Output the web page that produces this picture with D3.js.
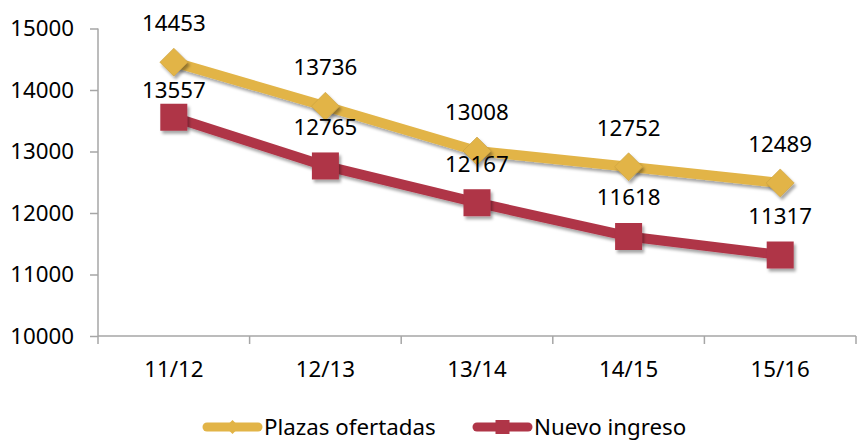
<!DOCTYPE html>
<html>
<head>
<meta charset="utf-8">
<script src="https://cdn.jsdelivr.net/npm/d3@7"></script>
<style>
  body { margin: 0; background: #fff; }
  svg { display: block; font-family: "Noto Sans", sans-serif; }
</style>
</head>
<body>
<svg id="chart" width="858" height="441"></svg>
<script>
const categories = ['11/12', '12/13', '13/14', '14/15', '15/16']
const plazasOfertadas = [14453, 13736, 13008, 12752, 12489]
const nuevoIngreso = [13557, 12765, 12167, 11618, 11317]
const yTicks = [10000, 11000, 12000, 13000, 14000, 15000]
const seriesNames = ['Plazas ofertadas', 'Nuevo ingreso']

const width = 858
const height = 441
const margin = { top: 28.5, right: 2, bottom: 105, left: 98 }
const fontSize = 22.3

const svg = d3.select('#chart')

const defs = svg.append('defs')
const shadow = defs.append('filter').attr('id', 'shadow')
  .attr('x', '-50%').attr('y', '-50%').attr('width', '200%').attr('height', '200%')
shadow.append('feDropShadow')
  .attr('dx', 2).attr('dy', 3).attr('stdDeviation', 1.5)
  .attr('flood-color', '#000').attr('flood-opacity', 0.35)

const xBand = d3.scaleBand().domain(categories).range([margin.left, width - margin.right])
const x = d => xBand(d) + xBand.bandwidth() / 2
const y = d3.scaleLinear().domain([10000, 15000]).range([height - margin.bottom, margin.top])

const axisColor = '#a6a6a6'

// y axis
const yAxis = d3.axisLeft(y).tickValues(yTicks).tickSize(8).tickPadding(16).tickFormat(d3.format('d'))
const gy = svg.append('g').attr('transform', `translate(${margin.left},0)`).call(yAxis)
gy.selectAll('path, line').attr('stroke', axisColor).attr('stroke-width', 1.5)
gy.select('.domain').attr('d', `M0,${y(15000)}V${y(10000)}`)
gy.selectAll('text').attr('font-size', fontSize).attr('fill', '#000').attr('font-family', '"Noto Sans", sans-serif')

// x axis (ticks at band edges)
const gx = svg.append('g').attr('transform', `translate(0,${y(10000)})`)
gx.append('line').attr('x1', margin.left).attr('x2', width - margin.right)
  .attr('stroke', axisColor).attr('stroke-width', 1.5)
const edges = categories.map(c => xBand(c)).concat([xBand(categories[categories.length - 1]) + xBand.bandwidth()])
gx.selectAll('line.tick').data(edges).join('line').attr('class', 'tick')
  .attr('x1', d => d).attr('x2', d => d).attr('y1', 0).attr('y2', 8)
  .attr('stroke', axisColor).attr('stroke-width', 1.5)
gx.selectAll('text').data(categories).join('text')
  .attr('x', d => x(d)).attr('y', 41)
  .attr('text-anchor', 'middle').attr('font-size', fontSize).text(d => d)

const gold = '#e2b447'
const red = '#af3547'

const line = d3.line().x((d, i) => x(categories[i])).y(d => y(d))

function drawSeries (values, color, marker, labelShift) {
  const g = svg.append('g')
  g.append('path').attr('d', line(values))
    .attr('fill', 'none').attr('stroke', color).attr('stroke-width', 10)
    .attr('stroke-linejoin', 'round').attr('filter', 'url(#shadow)')
  g.selectAll('.marker').data(values).join('path').attr('class', 'marker')
    .attr('transform', (d, i) => `translate(${x(categories[i])},${y(d)})`)
    .attr('d', marker === 'diamond' ? 'M0,-14L14,0L0,14L-14,0Z' : 'M-13.5,-13.5H13.5V13.5H-13.5Z')
    .attr('fill', color)
    .attr('stroke', marker === 'diamond' ? '#c9a040' : 'none').attr('stroke-width', 0.6)
    .attr('filter', 'url(#shadow)')
  g.selectAll('.label').data(values).join('text').attr('class', 'label')
    .attr('x', (d, i) => x(categories[i]))
    .attr('y', (d, i) => y(d) - labelShift(i))
    .attr('text-anchor', 'middle').attr('font-size', fontSize).attr('fill', '#000')
    .text(d => d)
}

drawSeries(plazasOfertadas, gold, 'diamond', () => 31)
drawSeries(nuevoIngreso, red, 'square', i => (i === 0 ? 19 : 31))

// legend
const legend = svg.append('g').attr('transform', 'translate(0,427)')
const legendItems = [
  { name: seriesNames[0], color: gold, marker: 'diamond', x: 203 },
  { name: seriesNames[1], color: red, marker: 'square', x: 473 }
]
legendItems.forEach(item => {
  const g = legend.append('g').attr('transform', `translate(${item.x},0)`)
  g.append('line').attr('x1', 4).attr('x2', 55).attr('stroke', item.color)
    .attr('stroke-width', 9).attr('stroke-linecap', 'round')
  g.append('path').attr('transform', 'translate(29.5,0)')
    .attr('d', item.marker === 'diamond' ? 'M0,-7L7,0L0,7L-7,0Z' : 'M-7,-7H7V7H-7Z')
    .attr('fill', item.color)
  g.append('text').attr('x', 61).attr('y', 7.5).attr('font-size', fontSize).text(item.name)
})
</script>
</body>
</html>
